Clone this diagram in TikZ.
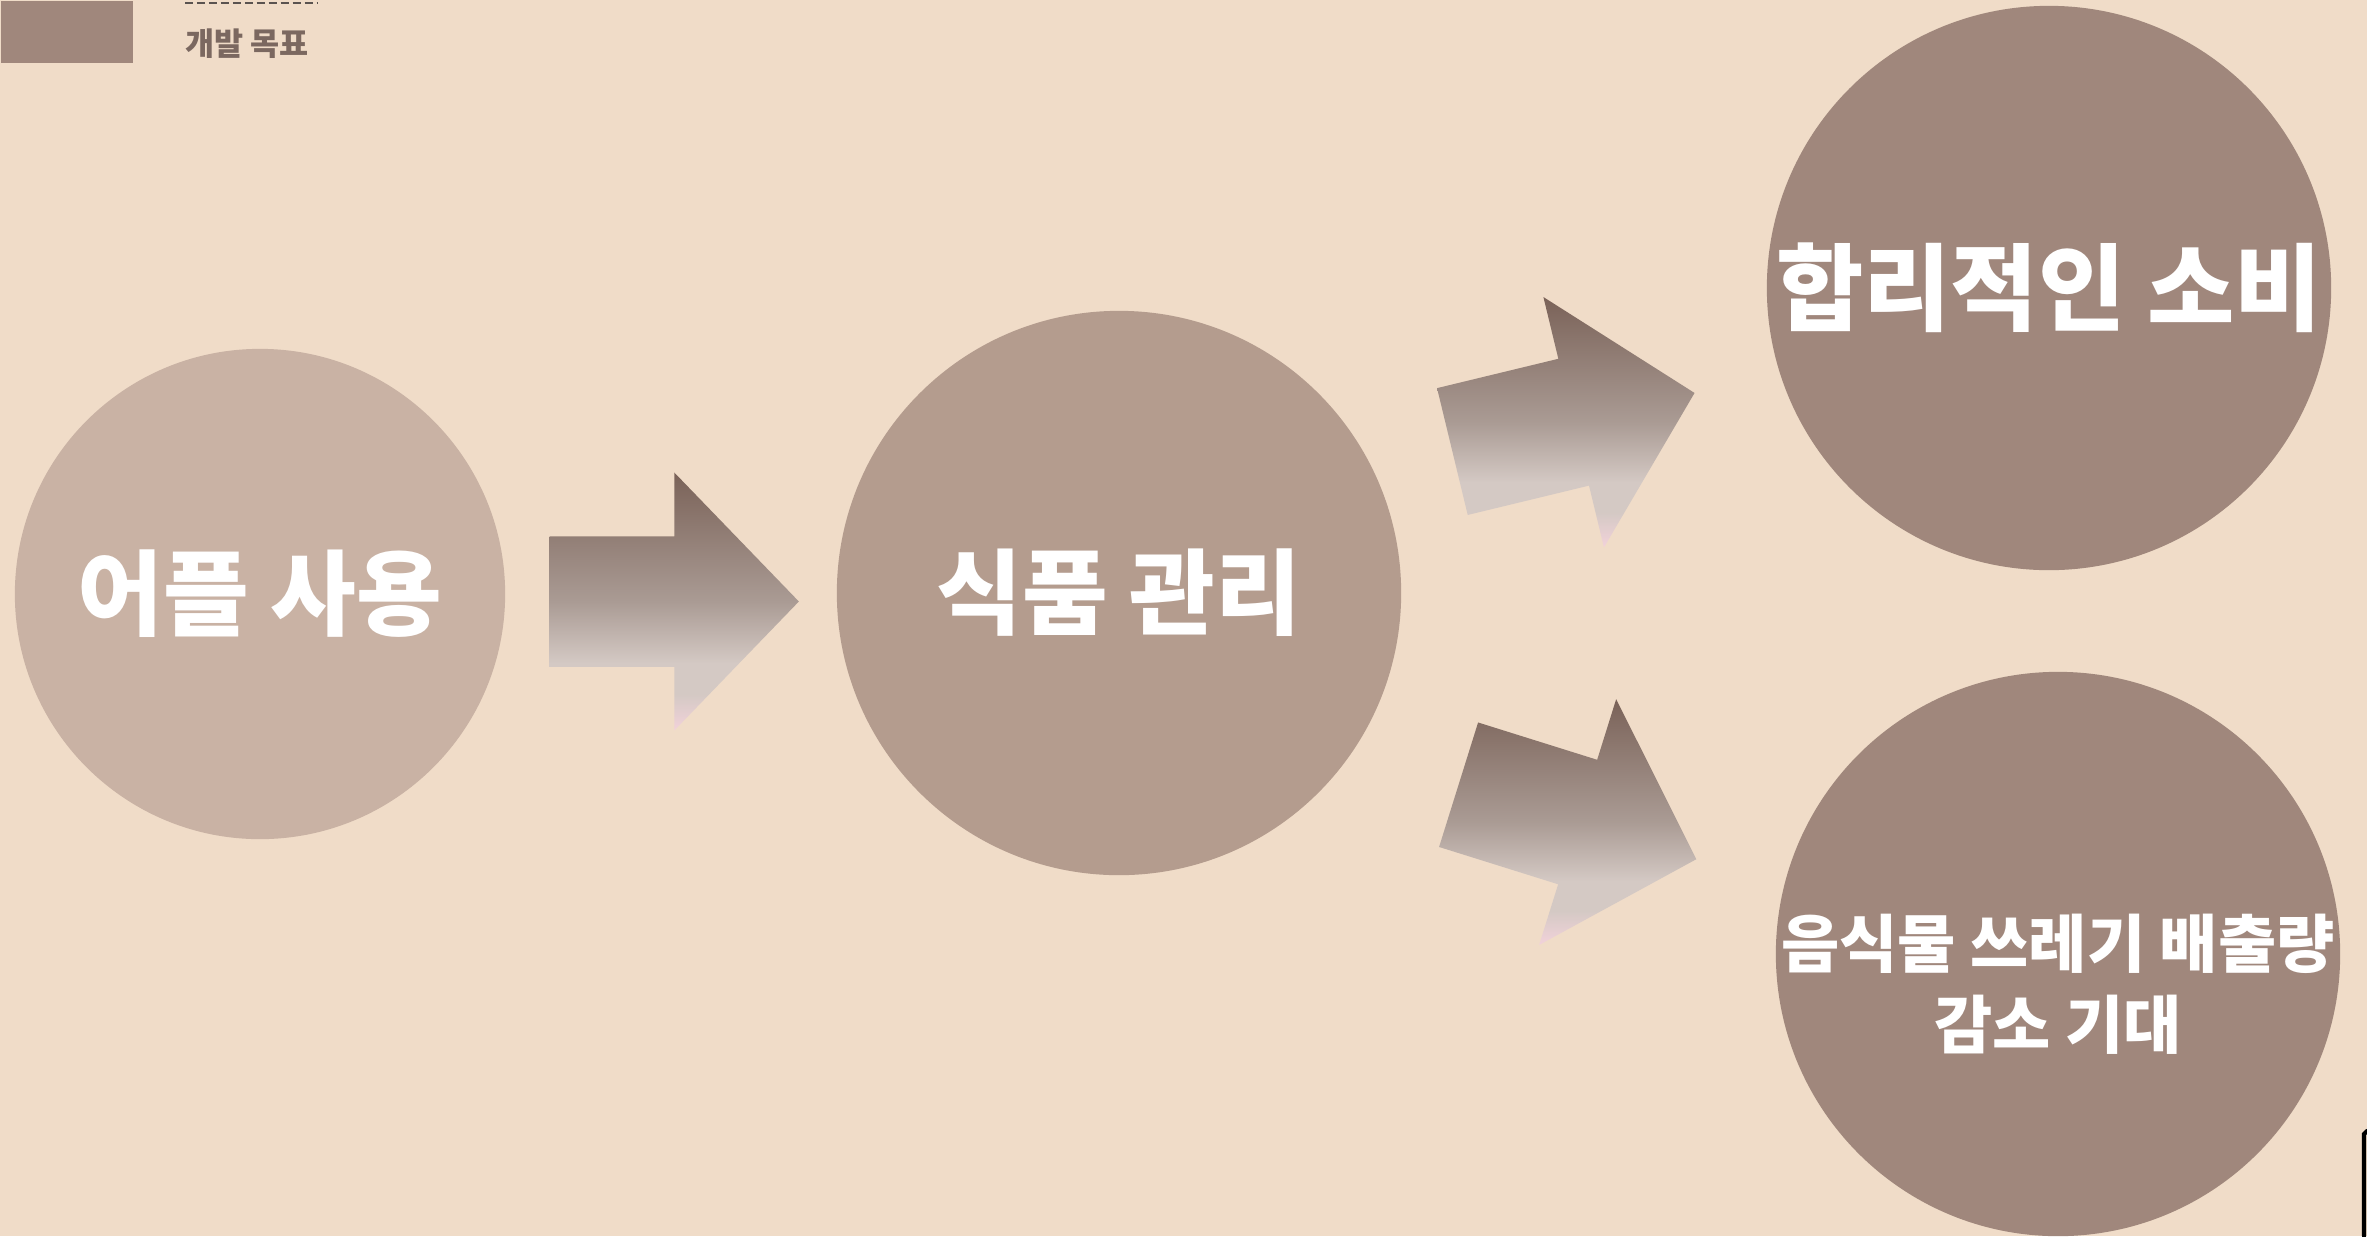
\documentclass[tikz,border=0pt]{standalone}
\usepackage{fontspec}
\setmainfont{Noto Sans CJK KR}
\usetikzlibrary{shapes.arrows}

\definecolor{bgcream}{HTML}{F0DCC8}
\definecolor{circlelight}{HTML}{C9B2A4}
\definecolor{circlemid}{HTML}{B49C8E}
\definecolor{circledark}{HTML}{A0877C}
\definecolor{labelgrey}{HTML}{7B6860}
\definecolor{dashgrey}{HTML}{5A5350}
\definecolor{arrowdark}{HTML}{7A6258}
\definecolor{arrowmidtone}{HTML}{AA9B94}
\definecolor{arrowlight}{HTML}{D4C9C4}
\definecolor{arrowpink}{HTML}{F2D2DA}

\pgfdeclareverticalshading{arrowfade}{100bp}{color(0bp)=(arrowpink); color(25bp)=(arrowpink); color(32bp)=(arrowlight); color(38bp)=(arrowlight); color(50bp)=(arrowmidtone); color(75bp)=(arrowdark); color(100bp)=(arrowdark)}

\begin{document}
\begin{tikzpicture}[%
					x=0.01cm, y=-0.01cm,
					every node/.style={inner sep=0pt},
					bubble/.style={%
						circle,
						text=white,
						align=center,
						font=\bfseries\fontsize{26.5}{32}\selectfont
					},
					blockarrow/.style={%
						single arrow,
						shade,
						shading=arrowfade,
						inner xsep=0pt,
						inner ysep=0.645cm,
						minimum height=2.49cm,
						single arrow head extend=0.635cm,
						single arrow tip angle=92,
						anchor=tail
					}
				]

				\useasboundingbox (0, 0) rectangle (2367, 1236);
				\fill[bgcream] (0, 0) rectangle (2367, 1236);

				% heading
				\node (tab) [fill=circledark, anchor=north west, minimum width=1.32cm, minimum height=0.62cm] at (0, 0) {};
				\draw[dashgrey, line width=0.6pt, dash pattern=on 2.3pt off 1.1pt] (185, 3) -- (318, 3);
				\node (goal) [text=labelgrey, font=\bfseries\fontsize{9}{11}\selectfont] at (247, 44) {개발 목표};

				\node (app) [bubble, fill=circlelight, minimum size=4.9cm] at (260, 594) {어플 사용};
				\node (food) [bubble, fill=circlemid, minimum size=5.64cm] at (1119, 593) {식품 관리};
				\node (spend) [bubble, fill=circledark, minimum size=5.64cm, font=\bfseries\fontsize{27}{32}\selectfont] at (2049, 288) {합리적인 소비};
				\node (waste) [bubble, fill=circledark, minimum size=5.64cm] at (2058, 954) {};
				\node (wasteText) [text=white, align=center, font=\bfseries\fontsize{18}{23}\selectfont] at ([yshift=-0.3cm]waste.center) {음식물 쓰레기 배출량\\감소 기대};

				\node (toFood) [blockarrow] at (549, 601.5) {};
				\node (toSpend) [blockarrow, rotate=13.6] at (1451.7, 451.7) {};
				\node (toWaste) [blockarrow, rotate=-17.4] at (1457.9, 784.5) {};

				\draw[black, line width=1.2pt, line cap=round] (2367, 1131) -- (2364, 1134) -- (2364, 1236);
			\end{tikzpicture}
\end{document}
